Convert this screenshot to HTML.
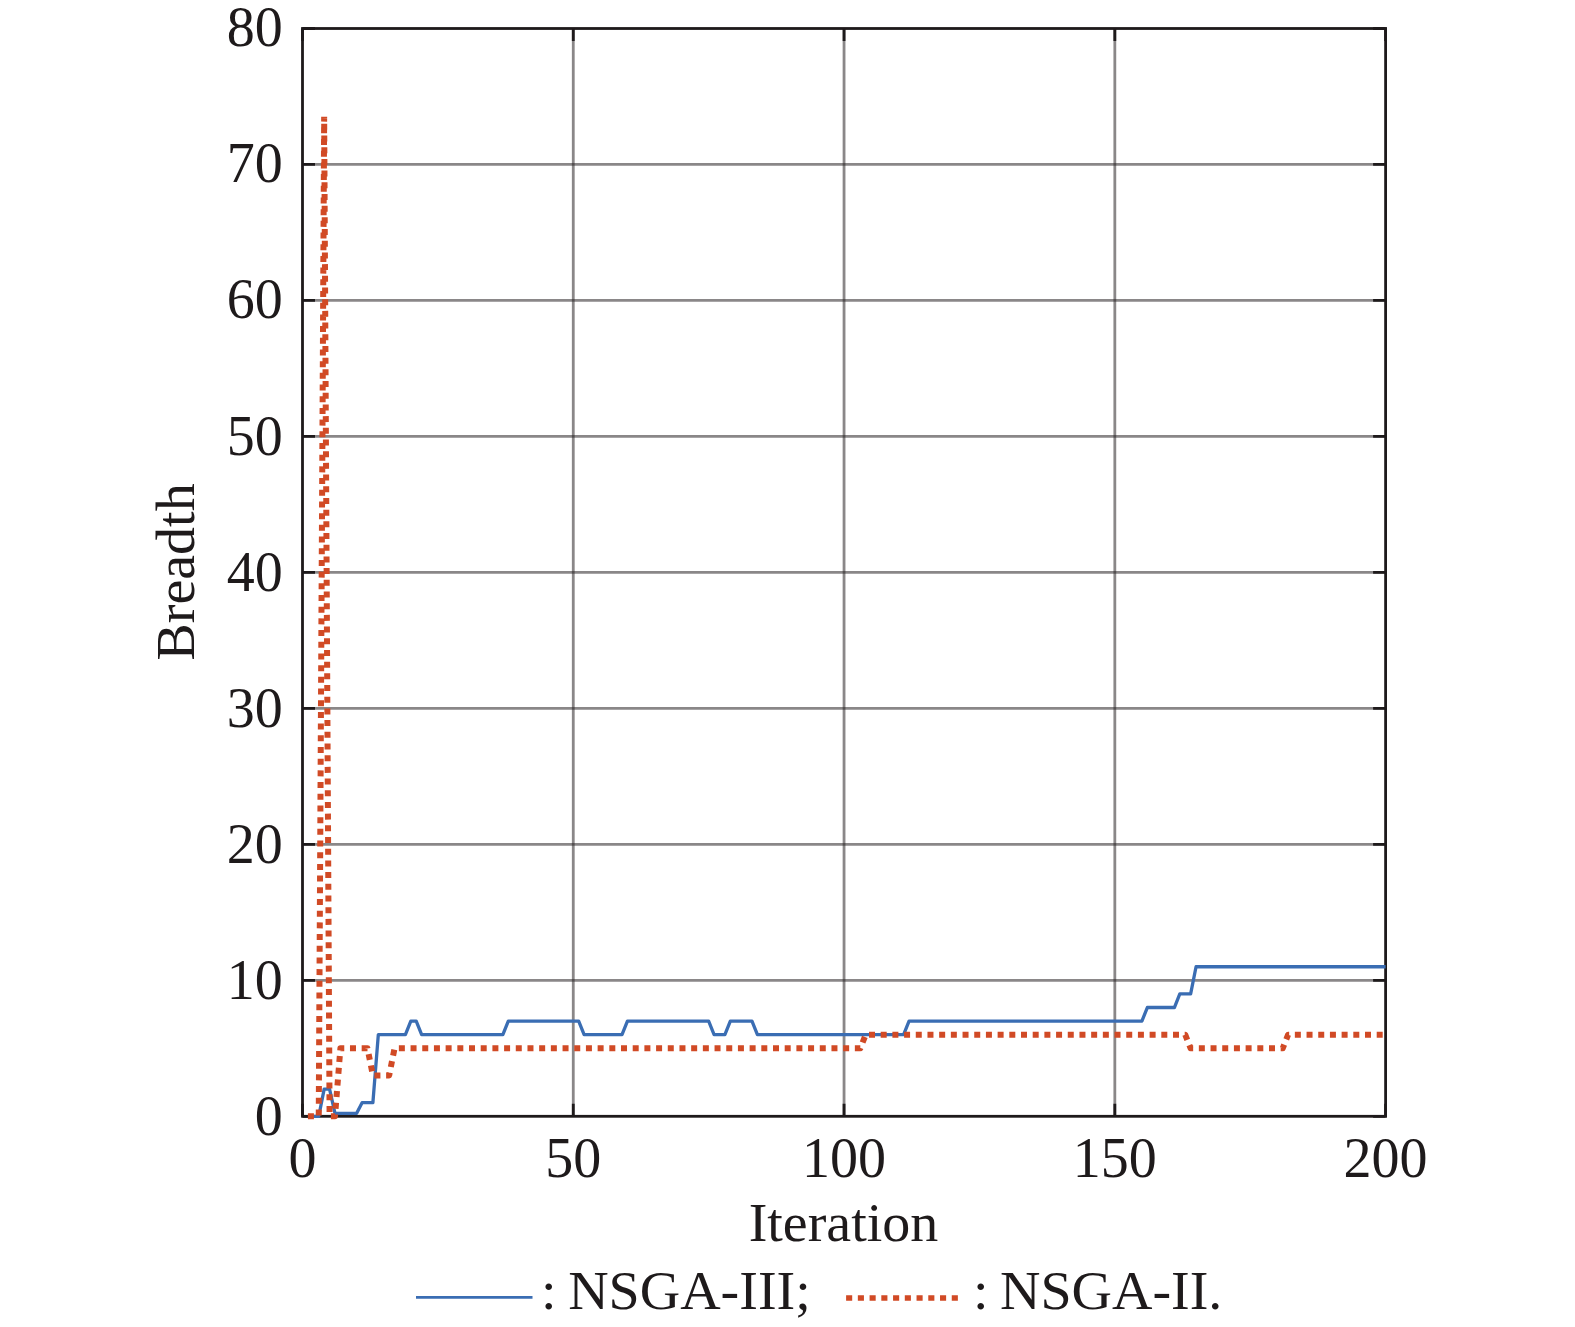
<!DOCTYPE html>
<html><head><meta charset="utf-8"><style>
html,body{margin:0;padding:0;background:#fff;}
body{width:1575px;height:1327px;overflow:hidden;}
svg{display:block;}
text{font-family:"Liberation Serif",serif;font-size:56px;fill:#1e1a1b;}
</style></head><body>
<svg width="1575" height="1327" viewBox="0 0 1575 1327">
<rect width="1575" height="1327" fill="#fff"/>
<line x1="302.5" y1="980.32" x2="1385.6" y2="980.32" stroke="#262224" stroke-opacity="0.54" stroke-width="2.8"/>
<line x1="302.5" y1="844.35" x2="1385.6" y2="844.35" stroke="#262224" stroke-opacity="0.54" stroke-width="2.8"/>
<line x1="302.5" y1="708.38" x2="1385.6" y2="708.38" stroke="#262224" stroke-opacity="0.54" stroke-width="2.8"/>
<line x1="302.5" y1="572.40" x2="1385.6" y2="572.40" stroke="#262224" stroke-opacity="0.54" stroke-width="2.8"/>
<line x1="302.5" y1="436.42" x2="1385.6" y2="436.42" stroke="#262224" stroke-opacity="0.54" stroke-width="2.8"/>
<line x1="302.5" y1="300.45" x2="1385.6" y2="300.45" stroke="#262224" stroke-opacity="0.54" stroke-width="2.8"/>
<line x1="302.5" y1="164.47" x2="1385.6" y2="164.47" stroke="#262224" stroke-opacity="0.54" stroke-width="2.8"/>
<line x1="573.27" y1="28.5" x2="573.27" y2="1116.3" stroke="#262224" stroke-opacity="0.54" stroke-width="2.8"/>
<line x1="844.05" y1="28.5" x2="844.05" y2="1116.3" stroke="#262224" stroke-opacity="0.54" stroke-width="2.8"/>
<line x1="1114.83" y1="28.5" x2="1114.83" y2="1116.3" stroke="#262224" stroke-opacity="0.54" stroke-width="2.8"/>
<path d="M302.5 1116.30H315.0M1385.6 1116.30H1373.1M302.5 980.32H315.0M1385.6 980.32H1373.1M302.5 844.35H315.0M1385.6 844.35H1373.1M302.5 708.38H315.0M1385.6 708.38H1373.1M302.5 572.40H315.0M1385.6 572.40H1373.1M302.5 436.42H315.0M1385.6 436.42H1373.1M302.5 300.45H315.0M1385.6 300.45H1373.1M302.5 164.47H315.0M1385.6 164.47H1373.1M302.5 28.50H315.0M1385.6 28.50H1373.1M302.50 1116.3V1103.8M302.50 28.5V41.0M573.27 1116.3V1103.8M573.27 28.5V41.0M844.05 1116.3V1103.8M844.05 28.5V41.0M1114.83 1116.3V1103.8M1114.83 28.5V41.0M1385.60 1116.3V1103.8M1385.60 28.5V41.0" stroke="#1e1a1b" stroke-width="2.8" fill="none"/>
<rect x="302.5" y="28.5" width="1083.10" height="1087.80" fill="none" stroke="#1e1a1b" stroke-width="2.8" stroke-linejoin="miter"/>
<path d="M307.92 1116.30 L318.75 1116.30 L324.16 1089.11 L329.58 1089.11 L334.99 1113.31 L356.65 1113.31 L362.07 1102.70 L372.90 1102.70 L378.32 1034.71 L405.39 1034.71 L410.81 1021.12 L416.23 1021.12 L421.64 1034.71 L502.87 1034.71 L508.29 1021.12 L578.69 1021.12 L584.11 1034.71 L622.01 1034.71 L627.43 1021.12 L708.66 1021.12 L714.08 1034.71 L724.91 1034.71 L730.32 1021.12 L751.99 1021.12 L757.40 1034.71 L903.62 1034.71 L909.04 1021.12 L1141.90 1021.12 L1147.32 1007.52 L1174.40 1007.52 L1179.81 993.92 L1190.64 993.92 L1196.06 966.73 L1385.60 966.73" fill="none" stroke="#3a6db3" stroke-width="3.3" stroke-linejoin="round" stroke-linecap="butt"/>
<path d="M307.92 1116.30 L318.75 1116.30 L324.16 116.88 L329.58 1116.30" fill="none" stroke="#d14a25" stroke-width="6.0" stroke-dasharray="6.0 5.692" stroke-linejoin="miter" stroke-miterlimit="1" stroke-linecap="butt"/>
<path d="M329.58 1116.30 L334.99 1116.30 L340.41 1048.31 L367.49 1048.31 L372.90 1075.51 L389.15 1075.51 L394.56 1048.31 L860.30 1048.31 L865.71 1034.71 L1185.23 1034.71 L1190.64 1048.31 L1282.71 1048.31 L1288.12 1034.71 L1385.60 1034.71" fill="none" stroke="#d14a25" stroke-width="6.0" stroke-dasharray="6.0 5.692" stroke-dashoffset="10.361" stroke-linejoin="round" stroke-linecap="butt"/>
<line x1="416" y1="1297.3" x2="532.5" y2="1297.3" stroke="#3a6db3" stroke-width="2.8"/>
<line x1="846.1" y1="1298" x2="958.5" y2="1298" stroke="#d14a25" stroke-width="5.6" stroke-dasharray="6.1 5.64"/>
<text x="282.8" y="1135.34" text-anchor="end">0</text>
<text x="282.8" y="999.18" text-anchor="end">10</text>
<text x="282.8" y="863.01" text-anchor="end">20</text>
<text x="282.8" y="726.85" text-anchor="end">30</text>
<text x="282.8" y="590.69" text-anchor="end">40</text>
<text x="282.8" y="454.53" text-anchor="end">50</text>
<text x="282.8" y="318.36" text-anchor="end">60</text>
<text x="282.8" y="182.20" text-anchor="end">70</text>
<text x="282.8" y="46.04" text-anchor="end">80</text>
<text x="302.50" y="1177" text-anchor="middle">0</text>
<text x="573.27" y="1177" text-anchor="middle">50</text>
<text x="844.05" y="1177" text-anchor="middle">100</text>
<text x="1114.83" y="1177" text-anchor="middle">150</text>
<text x="1385.60" y="1177" text-anchor="middle">200</text>
<text transform="translate(843.5 1241) scale(1 0.975)" text-anchor="middle">Iteration</text>
<text transform="translate(194.1 572) rotate(-90) scale(1 0.975)" text-anchor="middle">Breadth</text>
<text transform="translate(541 1309.3) scale(1 0.975)">:<tspan dx="-2.4"> NSGA-III;</tspan></text>
<text transform="translate(973 1309.3) scale(1 0.975)">:<tspan dx="-2.6"> NSGA-II.</tspan></text>
</svg>
</body></html>
